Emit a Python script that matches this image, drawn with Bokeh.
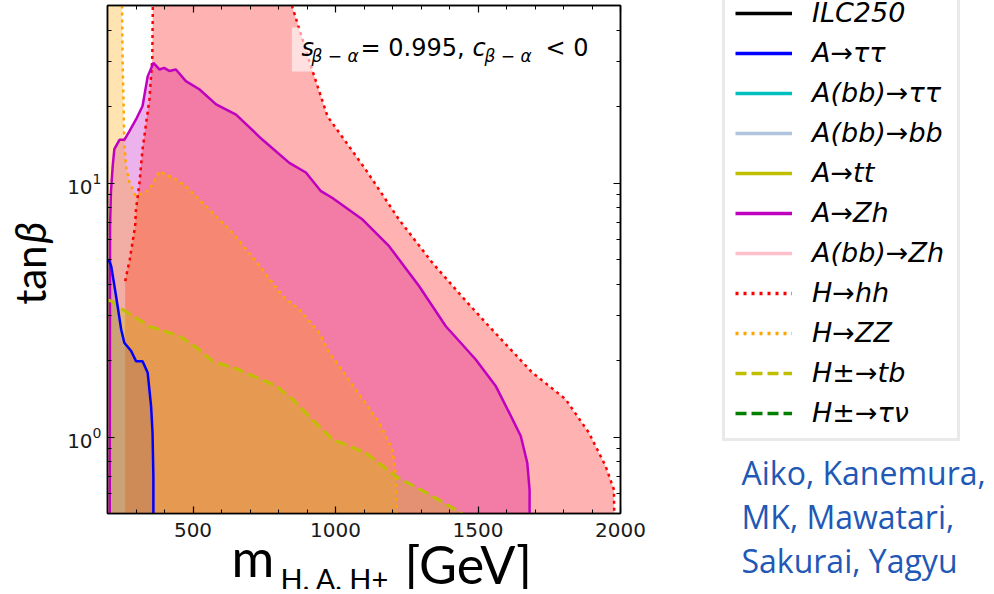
import math
import numpy as np
from bokeh.plotting import figure
from bokeh.layouts import row, column
from bokeh.models import (FixedTicker, LinearAxis, LogAxis, Label, Legend,
                          LegendItem, BoxAnnotation)
from bokeh.embed import file_html
from bokeh.resources import INLINE

# ---------------- data ----------------
X_START, X_END = 200, 2000
Y_START, Y_END = 0.5, 50
x_major_ticks = [500, 1000, 1500, 2000]
x_minor_ticks = [200, 300, 400, 600, 700, 800, 900, 1100, 1200, 1300, 1400,
                 1600, 1700, 1800, 1900]
y_major_ticks = [1, 10]
y_minor_ticks = [0.5, 0.6, 0.7, 0.8, 0.9, 2, 3, 4, 5, 6, 7, 8, 9, 20, 30, 40, 50]

# H -> hh excluded region (red dotted boundary)
hh_left_x = [262, 262, 278, 297, 300, 312, 323, 347, 357, 359]
hh_left_y = [0.5, 4.11, 5.0, 6.76, 7.87, 10.0, 13.6, 21.3, 30.6, 50]
hh_right_x = [847, 914, 972, 1106, 1223, 1339, 1444, 1527, 1689, 1807, 1889,
              1948, 1977, 1978]
hh_right_y = [50, 28.8, 18.3, 11.3, 7.18, 4.87, 3.57, 2.82, 1.80, 1.41, 1.04,
              0.767, 0.62, 0.5]

# A -> Zh (magenta solid boundary)
zh_x = [208, 209, 212, 218, 224, 242, 259, 277, 300, 323, 341, 361, 382, 399,
        417, 440, 475, 522, 581, 651, 744, 838, 896, 949, 988, 1095, 1188, 1293,
        1387, 1492, 1562, 1609, 1650, 1673, 1681, 1681]
zh_y = [0.5, 6.76, 9.16, 11.6, 13.6, 14.8, 14.8, 16.0, 17.8, 20.1, 26.3, 29.7,
        28.0, 28.4, 27.6, 28.0, 25.2, 23.4, 20.4, 18.6, 14.8, 12.0, 11.0, 9.29,
        8.75, 7.18, 5.64, 3.93, 2.73, 2.02, 1.59, 1.25, 1.01, 0.79, 0.62, 0.5]

# H -> ZZ (orange dotted boundary)
zz_x = [251, 253, 256, 259, 265, 277, 300, 347, 382, 405, 430, 475, 557, 639,
        744, 814, 873, 943, 978, 1071, 1153, 1200, 1212, 1215]
zz_y = [50, 30, 21.3, 14.4, 11.65, 10.05, 8.87, 9.43, 11.1, 10.8, 10.5, 9.72,
        7.87, 6.37, 4.57, 3.59, 3.18, 2.57, 2.15, 1.54, 1.14, 0.893, 0.70, 0.5]

# H+- -> tb (olive dashed boundary)
tb_x = [203, 213, 253, 347, 452, 522, 569, 662, 791, 849, 919, 989, 1106, 1212,
        1340, 1445]
tb_y = [3.46, 3.43, 3.18, 2.73, 2.50, 2.21, 1.99, 1.84, 1.59, 1.41, 1.17, 0.98,
        0.867, 0.70, 0.585, 0.5]

# A -> tautau (blue solid boundary)
tau_x = [202, 207, 213, 230, 248, 259, 283, 300, 323, 341, 353, 358, 361, 361]
tau_y = [5.0, 4.91, 4.71, 3.59, 2.65, 2.35, 2.18, 1.99, 1.99, 1.79, 1.32, 1.04,
         0.7, 0.5]

legend_labels = ["ILC250", "A→ττ", "A(bb)→ττ", "A(bb)→bb", "A→tt", "A→Zh",
                 "A(bb)→Zh", "H→hh", "H→ZZ", "H±→tb", "H±→τν"]
legend_colors = ["black", "#0000FF", "#00BFBF", "#B0C4DE", "#BFBF00", "#BF00BF",
                 "#FFC0CB", "#FF0000", "#FFA500", "#BFBF00", "#008000"]
legend_dashes = ["solid", "solid", "solid", "solid", "solid", "solid", "solid",
                 "3 5", "3 5", "11 5", "11 5"]
authors = ["Aiko, Kanemura,", "MK, Mawatari,", "Sakurai, Yagyu"]

PURPLE = "#BF00BF"
RED = "#FF0000"
ORANGE = "#FFA500"
OLIVE = "#BFBF00"

# ---------------- geometry (page pixels) ----------------
ORG = 1                    # canvas origin on the page
TAN_W = 60                 # width of the left strip holding the y title
MAIN_L, MAIN_R, MAIN_T, MAIN_B = 47, 30, 5, 30
FRAME_W, FRAME_H = 513, 508
MAIN_W = MAIN_L + FRAME_W + MAIN_R
MAIN_H = MAIN_T + FRAME_H + MAIN_B
TOTAL_W, TOTAL_H = 984, 589
RIGHT_W = TOTAL_W - TAN_W - MAIN_W

FL = ORG + TAN_W + MAIN_L           # frame left on page (108)
FB = ORG + MAIN_T + FRAME_H         # frame bottom on page (514)

# measured shift of rendered text below the requested baseline (fraction of size)
SHIFT = {"DejaVu Sans": 0.29, "Open Sans": 0.45, "Lato": 0.38}


def blank_fig(w, h):
    f = figure(width=w, height=h, x_range=(0, 1), y_range=(0, 1),
               min_border=0, toolbar_location=None, x_axis_location=None,
               y_axis_location=None, output_backend="svg",
               outline_line_color=None, background_fill_color="white",
               border_fill_color="white")
    f.grid.visible = False
    return f


def add_label(f, x, y, text, size, style="normal", font="DejaVu Sans",
              color="black", align="left", angle=0.0):
    px = float(size.replace("px", ""))
    d = SHIFT.get(font, 0.3) * px
    if angle == 0.0:
        y = y + d
    else:
        x = x - d
    f.add_layout(Label(x=x, y=y, x_units="screen", y_units="screen",
                       text=text, text_font=font, text_font_size=size,
                       text_font_style=style, text_color=color,
                       text_align=align, text_baseline="alphabetic",
                       angle=angle))


# ---------------- main plot ----------------
p = figure(width=MAIN_W, height=MAIN_H, min_border_left=MAIN_L,
           min_border_right=MAIN_R, min_border_top=MAIN_T,
           min_border_bottom=MAIN_B,
           x_range=(X_START, X_END), y_range=(Y_START, Y_END),
           y_axis_type="log", output_backend="svg", toolbar_location=None,
           background_fill_color="white", border_fill_color="white")
p.xgrid.visible = False
p.ygrid.visible = False
p.outline_line_color = "black"
p.outline_line_width = 1.5

xt = FixedTicker(ticks=x_major_ticks, minor_ticks=x_minor_ticks)
yt = FixedTicker(ticks=y_major_ticks, minor_ticks=y_minor_ticks)
p.xaxis.ticker = xt
p.yaxis.ticker = yt


def style_axis(ax, labels=True, standoff=6):
    ax.axis_line_color = "black"
    ax.axis_line_width = 1.5
    ax.major_tick_in = 7
    ax.major_tick_out = 0
    ax.minor_tick_in = 4
    ax.minor_tick_out = 0
    ax.major_tick_line_color = "black"
    ax.minor_tick_line_color = "black"
    ax.major_tick_line_width = 1.2
    ax.minor_tick_line_width = 1.0
    if labels:
        ax.major_label_text_font = "DejaVu Sans"
        ax.major_label_text_font_size = "20px"
        ax.major_label_text_color = "#1a1a1a"
        ax.major_label_standoff = standoff
    else:
        ax.major_label_text_font_size = "1px"
        ax.major_label_text_alpha = 0
        ax.major_label_standoff = 0


style_axis(p.xaxis[0], standoff=9)
style_axis(p.yaxis[0], standoff=6)
top_ax = LinearAxis(ticker=xt)
style_axis(top_ax, labels=False)
p.add_layout(top_ax, "above")
right_ax = LogAxis(ticker=yt)
style_axis(right_ax, labels=False)
p.add_layout(right_ax, "right")

# filled regions
p.patch(zh_x, zh_y, fill_color=PURPLE, fill_alpha=0.3, line_color=None)
p.patch(hh_left_x + hh_right_x, hh_left_y + hh_right_y,
        fill_color=RED, fill_alpha=0.3, line_color=None)
p.patch([X_START] + zz_x + [X_START], [Y_END] + zz_y + [Y_START],
        fill_color=ORANGE, fill_alpha=0.3, line_color=None)
p.patch([X_START] + tb_x + [X_START], [tb_y[0]] + tb_y + [Y_START],
        fill_color=OLIVE, fill_alpha=0.3, line_color=None)
p.patch([X_START] + tau_x + [X_START], [tau_y[0]] + tau_y + [Y_START],
        fill_color="#1f1f8f", fill_alpha=0.12, line_color=None)

# boundary lines
DOT = "3 4"
p.line(hh_left_x[1:], hh_left_y[1:], line_color=RED, line_width=2.5, line_dash=DOT)
p.line(hh_right_x, hh_right_y, line_color=RED, line_width=2.5, line_dash=DOT)
p.line(zz_x, zz_y, line_color=ORANGE, line_width=2.5, line_dash=DOT)
p.line(zh_x, zh_y, line_color=PURPLE, line_width=2.5)
p.line(tb_x, tb_y, line_color=OLIVE, line_width=3, line_dash="11 5")
p.line(tau_x, tau_y, line_color="#0000FF", line_width=2.5)

# annotation box + text inside the panel
p.add_layout(BoxAnnotation(left=847, right=1916, top=41, bottom=27.5,
                           fill_color="white", fill_alpha=0.6, line_color=None))


def plab(px, py, text, size, style="normal"):
    add_label(p, px - FL, FB - py, text, size, style)


plab(302, 55, "s", "24px", "italic")
plab(312, 61, "β − α", "17px", "italic")
plab(361, 55, "= 0.995,", "24px")
plab(473, 55, "c", "24px", "italic")
plab(485, 61, "β − α", "17px", "italic")
plab(546, 55, "< 0", "24px")

# ---------------- y title strip ----------------
tf = blank_fig(TAN_W, MAIN_H)
TB = ORG + MAIN_H
add_label(tf, 46 - ORG, TB - 276, "tan", "42px", font="Lato", align="right",
          angle=math.pi / 2)
add_label(tf, 46 - ORG, TB - 274, "β", "42px", style="italic", font="Lato",
          angle=math.pi / 2)

# ---------------- x title strip ----------------
XL_H = TOTAL_H - MAIN_H
xf = blank_fig(TAN_W + MAIN_W, XL_H)
XB = ORG + TOTAL_H
add_label(xf, 232 - ORG, XB - 577, "m", "52px", font="Lato")
add_label(xf, 281 - ORG, XB - 590, "H, A, H+", "29px", font="Lato")
add_label(xf, 405 - ORG, XB - 584, "[GeV]", "52px", font="Lato")

# ---------------- right panel: legend + credit ----------------
rf = blank_fig(RIGHT_W, TOTAL_H)
RL = ORG + TAN_W + MAIN_W
nan_pt = np.array([np.nan])          # legend proxies: nothing drawn in the panel
items = []
for lbl, col, dash in zip(legend_labels, legend_colors, legend_dashes):
    r = rf.line(nan_pt, nan_pt, line_color=col, line_width=3.5, line_dash=dash)
    items.append(LegendItem(label=lbl, renderers=[r]))

legend = Legend(items=items, location=(723 - RL, XB - 442), margin=0,
                padding=10, spacing=9, glyph_width=57, glyph_height=30,
                label_height=30, label_width=135, label_standoff=20,
                label_text_font="DejaVu Sans", label_text_font_style="italic",
                label_text_font_size="27px", label_text_color="black",
                border_line_color="#d4d4d4", border_line_width=3,
                background_fill_color="white", background_fill_alpha=1.0)
rf.add_layout(legend)

for txt, base in zip(authors, [487, 531, 575]):
    add_label(rf, 742 - RL, XB - base, txt, "32px", font="Open Sans",
              color="#2158B6")

layout = row(column(row(tf, p), xf), rf)
open("out.html", "w").write(file_html(layout, INLINE))
